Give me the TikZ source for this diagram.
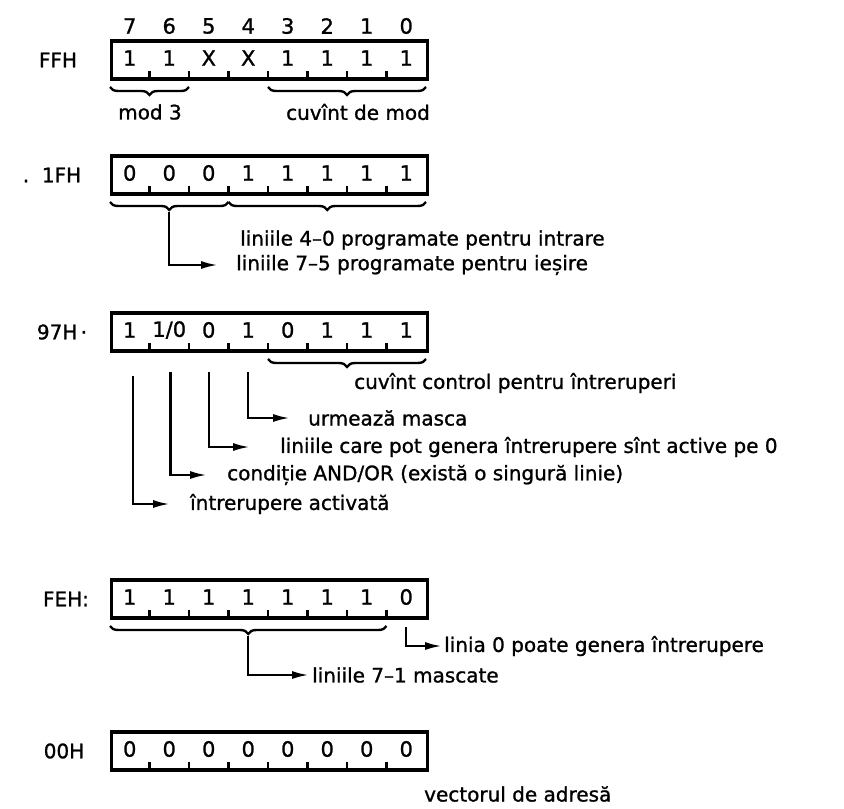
\documentclass[tikz,border=0pt]{standalone}
\usepackage{fontspec}
\setmainfont{DejaVu Sans}[FakeBold=1.1]
\usetikzlibrary{arrows.meta,positioning,decorations.pathreplacing}

\begin{document}
\begin{tikzpicture}[x=1pt,y=-1pt,
  reg/.style={draw,line width=3.4pt,minimum width=316pt,minimum height=38pt,inner sep=0pt,anchor=west},
  bit/.style={font=\fontsize{21}{21}\selectfont,inner sep=0pt},
  lbl/.style={font=\fontsize{20}{20}\selectfont,inner sep=0pt},
  txt/.style={font=\fontsize{20}{20}\selectfont,inner sep=0pt,anchor=west},
  brc/.style={decorate,decoration={brace,mirror,amplitude=8pt},line width=2.4pt},
  tick/.style={line width=2.2pt},
  arr/.style={-{Latex[length=17pt,width=8pt]},line width=2.4pt}
]
\useasboundingbox (0,0) rectangle (844,809);

% bit numbers
\foreach \b [count=\i from 0] in {7,6,5,4,3,2,1,0}
  \node[bit] (n\b) at ({129.75+39.5*\i},26) {\b};

% the five registers
\foreach \n/\y/\bits in {regFF/60/{1,1,X,X,1,1,1,1}, reg1F/175/{0,0,0,1,1,1,1,1},
    reg97/332/{1,{1/0},0,1,0,1,1,1}, regFE/599/{1,1,1,1,1,1,1,0}, reg00/751/{0,0,0,0,0,0,0,0}}{
  \node[reg] (\n) at (110,\y) {};
  \foreach \v [count=\i from 0] in \bits
    \node[bit] (\n-\i) at ({129.75+39.5*\i},{\y-2}) {\v};
  \foreach \i in {1,...,7}
    \draw[tick] ({110+39.5*\i},{\y+19}) -- ++(0,-8);
}

\node[lbl] (lFF) at (58,60) {FFH};
\node[lbl] (l1F) at (52,175) {.\ \ 1FH};
\node[lbl] (l97) at (62,332) {97H\,·};
\node[lbl] (lFE) at (66,599) {FEH:};
\node[lbl] (l00) at (64,751) {00H};

% FFH
\draw[brc] (110,87) -- (189,87);
\draw[brc] (268,87) -- (426,87);
\node[txt,anchor=center] (mod3) at (150,112) {mod 3};
\node[txt,anchor=center] (mode) at (358,112) {cuvînt de mod};

% 1FH
\draw[brc] (110,202) -- (228.5,202);
\draw[brc] (228.5,202) -- (426,202);
\coordinate (t75) at (169.25,212);
\node[txt] (in40) at (240,240) {liniile 4–0 programate pentru intrare};
\node[txt] (out75) at (236,265) {liniile 7–5 programate pentru ieșire};
\draw[arr,shorten >=18pt] (t75) |- (out75.west);

% 97H
\draw[brc] (268,359) -- (426,359);
\node[txt] (ctl) at (354,383) {cuvînt control pentru întreruperi};
\coordinate (v4) at (248.25,372);
\coordinate (v5) at (208.75,372);
\coordinate (v6) at (170.5,372);
\coordinate (v7) at (133,376);
\node[txt] (msk) at (308,418) {urmează masca};
\node[txt] (act0) at (280,447) {liniile care pot genera întrerupere sînt active pe 0};
\node[txt] (andor) at (227,475) {condiție AND/OR (există o singură linie)};
\node[txt] (inten) at (190,504) {întrerupere activată};
\draw[arr,shorten >=18pt] (v4) |- (msk.west);
\draw[arr,shorten >=30pt] (v5) |- (act0.west);
\draw[arr,shorten >=20pt] (v6) |- (andor.west);
\draw[arr,shorten >=20pt] (v7) |- (inten.west);

% FEH
\draw[brc] (110,626) -- (386.5,626);
\coordinate (t71) at (248.25,636);
\coordinate (v0) at (406.25,627);
\node[txt] (lin0) at (444,646) {linia 0 poate genera întrerupere};
\node[txt] (lin71) at (312,675) {liniile 7–1 mascate};
\draw[arr,shorten >=2pt] (v0) |- (lin0.west);
\draw[arr,shorten >=3pt] (t71) |- (lin71.west);

% 00H
\node[txt] (vec) at (424,794) {vectorul de adresă};
\end{tikzpicture}
\end{document}
